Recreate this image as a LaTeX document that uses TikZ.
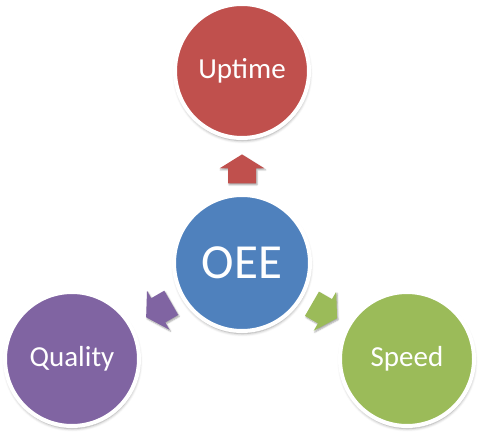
\documentclass[tikz,border=0pt]{standalone}
\usepackage{fontspec}
\setmainfont{Carlito}
\usetikzlibrary{calc,shadows.blur}
\definecolor{cred}{HTML}{C0504D}
\definecolor{cblue}{HTML}{4F81BD}
\definecolor{cpurple}{HTML}{8064A2}
\definecolor{cgreen}{HTML}{9BBB59}
\tikzset{
  ball/.style={circle, inner sep=0pt, minimum size=134pt, draw=white, line width=4pt,
    text=white, font=\fontsize{29}{31}\selectfont,
    blur shadow={shadow xshift=0.5pt, shadow yshift=-2.5pt, shadow blur radius=3pt, shadow opacity=40}},
  bigball/.style={ball, minimum size=136pt, font=\fontsize{49}{52}\selectfont},
  blockarr/.pic={
    \path[pic actions, blur shadow={shadow xshift=1pt, shadow yshift=-1.5pt, shadow blur radius=1.5pt, shadow opacity=35}]
      (-14.5,-14) -- (0.5,-14) -- (0.5,-22.5) -- (14.5,0) -- (0.5,22.5) -- (0.5,14) -- (-14.5,14) -- cycle;
  }
}
\begin{document}
\begin{tikzpicture}[x=1pt,y=1pt]
\useasboundingbox (0,0) rectangle (486,442);
\node[ball, fill=cred] (up) at (242,371) {Uptime};
\node[bigball, fill=cblue] (oee) at (242,179) {OEE};
\node[ball, fill=cpurple] (qual) at (72,83) {Quality};
\node[ball, fill=cgreen] (speed) at (407,83) {Speed};
\coordinate (a1) at ($(oee.center)!0.49!(up.center)$);
\coordinate (a2) at ($(oee.center)!0.49!(qual.center)$);
\coordinate (a3) at ($(oee.center)!0.5!(speed.center)$);
\pic[fill=cred, rotate=90] at (a1) {blockarr};
\pic[fill=cpurple, rotate=210] at (a2) {blockarr};
\pic[fill=cgreen, rotate=330] at (a3) {blockarr};
\end{tikzpicture}
\end{document}
